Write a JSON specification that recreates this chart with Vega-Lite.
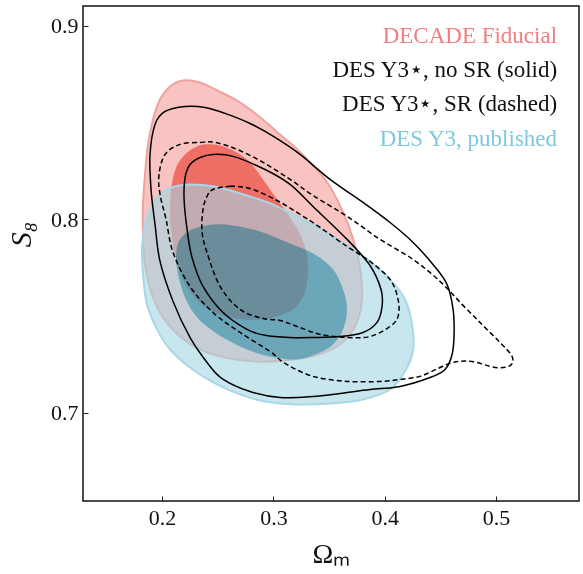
{
"$schema": "https://vega.github.io/schema/vega-lite/v6.json",
"width": 496, "height": 495,
"autosize": {"type": "none"},
"padding": {"left": 83, "top": 6, "right": 4, "bottom": 73},
"background": "white",
"config": {
  "view": {"stroke": "#111111", "strokeWidth": 1.5},
  "font": "Liberation Serif",
  "axis": {"grid": false, "domain": false, "tickSize": -5, "tickColor": "#222222", "tickWidth": 1,
           "labelFont": "Liberation Serif", "labelFontSize": 22, "labelColor": "#111111",
           "titleFont": "Liberation Serif", "titleFontWeight": "normal", "titleColor": "#111111"}
},
"data": {"values": [
{"g":"ro","k":0,"x":0.2189,"y":0.8718},{"g":"ro","k":1,"x":0.2341,"y":0.8708},{"g":"ro","k":2,"x":0.2476,"y":0.8672},{"g":"ro","k":3,"x":0.2656,"y":0.8620},{"g":"ro","k":4,"x":0.2790,"y":0.8568},{"g":"ro","k":5,"x":0.2925,"y":0.8506},{"g":"ro","k":6,"x":0.3060,"y":0.8439},{"g":"ro","k":7,"x":0.3195,"y":0.8372},{"g":"ro","k":8,"x":0.3329,"y":0.8295},{"g":"ro","k":9,"x":0.3464,"y":0.8207},{"g":"ro","k":10,"x":0.3572,"y":0.8103},{"g":"ro","k":11,"x":0.3671,"y":0.7974},{"g":"ro","k":12,"x":0.3743,"y":0.7845},{"g":"ro","k":13,"x":0.3787,"y":0.7716},{"g":"ro","k":14,"x":0.3796,"y":0.7587},{"g":"ro","k":15,"x":0.3760,"y":0.7483},{"g":"ro","k":16,"x":0.3689,"y":0.7406},{"g":"ro","k":17,"x":0.3572,"y":0.7344},{"g":"ro","k":18,"x":0.3374,"y":0.7297},{"g":"ro","k":19,"x":0.3105,"y":0.7271},{"g":"ro","k":20,"x":0.2835,"y":0.7266},{"g":"ro","k":21,"x":0.2566,"y":0.7287},{"g":"ro","k":22,"x":0.2341,"y":0.7328},{"g":"ro","k":23,"x":0.2162,"y":0.7395},{"g":"ro","k":24,"x":0.2009,"y":0.7494},{"g":"ro","k":25,"x":0.1910,"y":0.7612},{"g":"ro","k":26,"x":0.1847,"y":0.7767},{"g":"ro","k":27,"x":0.1829,"y":0.7922},{"g":"ro","k":28,"x":0.1829,"y":0.8078},{"g":"ro","k":29,"x":0.1847,"y":0.8233},{"g":"ro","k":30,"x":0.1874,"y":0.8388},{"g":"ro","k":31,"x":0.1919,"y":0.8517},{"g":"ro","k":32,"x":0.1982,"y":0.8620},{"g":"ro","k":33,"x":0.2072,"y":0.8687},
{"g":"ri","k":0,"x":0.2386,"y":0.8388},{"g":"ri","k":1,"x":0.2521,"y":0.8382},{"g":"ri","k":2,"x":0.2656,"y":0.8351},{"g":"ri","k":3,"x":0.2790,"y":0.8295},{"g":"ri","k":4,"x":0.2907,"y":0.8207},{"g":"ri","k":5,"x":0.3015,"y":0.8119},{"g":"ri","k":6,"x":0.3132,"y":0.8026},{"g":"ri","k":7,"x":0.3240,"y":0.7922},{"g":"ri","k":8,"x":0.3302,"y":0.7819},{"g":"ri","k":9,"x":0.3311,"y":0.7716},{"g":"ri","k":10,"x":0.3276,"y":0.7612},{"g":"ri","k":11,"x":0.3186,"y":0.7540},{"g":"ri","k":12,"x":0.3060,"y":0.7504},{"g":"ri","k":13,"x":0.2880,"y":0.7483},{"g":"ri","k":14,"x":0.2656,"y":0.7488},{"g":"ri","k":15,"x":0.2449,"y":0.7525},{"g":"ri","k":16,"x":0.2296,"y":0.7597},{"g":"ri","k":17,"x":0.2189,"y":0.7690},{"g":"ri","k":18,"x":0.2126,"y":0.7793},{"g":"ri","k":19,"x":0.2090,"y":0.7897},{"g":"ri","k":20,"x":0.2072,"y":0.8026},{"g":"ri","k":21,"x":0.2081,"y":0.8155},{"g":"ri","k":22,"x":0.2126,"y":0.8269},{"g":"ri","k":23,"x":0.2207,"y":0.8336},{"g":"ri","k":24,"x":0.2296,"y":0.8372},
{"g":"bo","k":0,"x":0.2251,"y":0.8181},{"g":"bo","k":1,"x":0.2458,"y":0.8171},{"g":"bo","k":2,"x":0.2701,"y":0.8134},{"g":"bo","k":3,"x":0.2970,"y":0.8083},{"g":"bo","k":4,"x":0.3177,"y":0.8026},{"g":"bo","k":5,"x":0.3419,"y":0.7953},{"g":"bo","k":6,"x":0.3662,"y":0.7866},{"g":"bo","k":7,"x":0.3868,"y":0.7783},{"g":"bo","k":8,"x":0.4048,"y":0.7690},{"g":"bo","k":9,"x":0.4183,"y":0.7587},{"g":"bo","k":10,"x":0.4246,"y":0.7457},{"g":"bo","k":11,"x":0.4255,"y":0.7328},{"g":"bo","k":12,"x":0.4183,"y":0.7215},{"g":"bo","k":13,"x":0.4048,"y":0.7121},{"g":"bo","k":14,"x":0.3805,"y":0.7070},{"g":"bo","k":15,"x":0.3509,"y":0.7049},{"g":"bo","k":16,"x":0.3213,"y":0.7044},{"g":"bo","k":17,"x":0.2925,"y":0.7059},{"g":"bo","k":18,"x":0.2701,"y":0.7096},{"g":"bo","k":19,"x":0.2458,"y":0.7158},{"g":"bo","k":20,"x":0.2251,"y":0.7235},{"g":"bo","k":21,"x":0.2072,"y":0.7328},{"g":"bo","k":22,"x":0.1955,"y":0.7432},{"g":"bo","k":23,"x":0.1865,"y":0.7561},{"g":"bo","k":24,"x":0.1829,"y":0.7716},{"g":"bo","k":25,"x":0.1820,"y":0.7860},{"g":"bo","k":26,"x":0.1847,"y":0.7974},{"g":"bo","k":27,"x":0.1910,"y":0.8078},{"g":"bo","k":28,"x":0.2000,"y":0.8140},{"g":"bo","k":29,"x":0.2117,"y":0.8171},
{"g":"bi","k":0,"x":0.2458,"y":0.7974},{"g":"bi","k":1,"x":0.2638,"y":0.7969},{"g":"bi","k":2,"x":0.2880,"y":0.7938},{"g":"bi","k":3,"x":0.3150,"y":0.7876},{"g":"bi","k":4,"x":0.3374,"y":0.7819},{"g":"bi","k":5,"x":0.3536,"y":0.7742},{"g":"bi","k":6,"x":0.3626,"y":0.7638},{"g":"bi","k":7,"x":0.3662,"y":0.7535},{"g":"bi","k":8,"x":0.3626,"y":0.7432},{"g":"bi","k":9,"x":0.3536,"y":0.7354},{"g":"bi","k":10,"x":0.3374,"y":0.7302},{"g":"bi","k":11,"x":0.3177,"y":0.7276},{"g":"bi","k":12,"x":0.2925,"y":0.7297},{"g":"bi","k":13,"x":0.2701,"y":0.7344},{"g":"bi","k":14,"x":0.2476,"y":0.7416},{"g":"bi","k":15,"x":0.2314,"y":0.7494},{"g":"bi","k":16,"x":0.2207,"y":0.7597},{"g":"bi","k":17,"x":0.2144,"y":0.7716},{"g":"bi","k":18,"x":0.2126,"y":0.7819},{"g":"bi","k":19,"x":0.2162,"y":0.7897},{"g":"bi","k":20,"x":0.2269,"y":0.7948},
{"g":"so","k":0,"x":0.2207,"y":0.8584},{"g":"so","k":1,"x":0.2386,"y":0.8579},{"g":"so","k":2,"x":0.2566,"y":0.8548},{"g":"so","k":3,"x":0.2790,"y":0.8496},{"g":"so","k":4,"x":0.3015,"y":0.8424},{"g":"so","k":5,"x":0.3240,"y":0.8336},{"g":"so","k":6,"x":0.3509,"y":0.8207},{"g":"so","k":7,"x":0.3805,"y":0.8088},{"g":"so","k":8,"x":0.4048,"y":0.7984},{"g":"so","k":9,"x":0.4255,"y":0.7881},{"g":"so","k":10,"x":0.4434,"y":0.7767},{"g":"so","k":11,"x":0.4560,"y":0.7664},{"g":"so","k":12,"x":0.4614,"y":0.7535},{"g":"so","k":13,"x":0.4623,"y":0.7406},{"g":"so","k":14,"x":0.4605,"y":0.7302},{"g":"so","k":15,"x":0.4542,"y":0.7225},{"g":"so","k":16,"x":0.4407,"y":0.7183},{"g":"so","k":17,"x":0.4138,"y":0.7137},{"g":"so","k":18,"x":0.3868,"y":0.7121},{"g":"so","k":19,"x":0.3599,"y":0.7101},{"g":"so","k":20,"x":0.3356,"y":0.7085},{"g":"so","k":21,"x":0.3060,"y":0.7080},{"g":"so","k":22,"x":0.2790,"y":0.7111},{"g":"so","k":23,"x":0.2539,"y":0.7178},{"g":"so","k":24,"x":0.2404,"y":0.7261},{"g":"so","k":25,"x":0.2251,"y":0.7390},{"g":"so","k":26,"x":0.2099,"y":0.7576},{"g":"so","k":27,"x":0.1982,"y":0.7783},{"g":"so","k":28,"x":0.1937,"y":0.7974},{"g":"so","k":29,"x":0.1901,"y":0.8155},{"g":"so","k":30,"x":0.1892,"y":0.8336},{"g":"so","k":31,"x":0.1937,"y":0.8491},{"g":"so","k":32,"x":0.2027,"y":0.8558},
{"g":"si","k":0,"x":0.2458,"y":0.8336},{"g":"si","k":1,"x":0.2638,"y":0.8326},{"g":"si","k":2,"x":0.2925,"y":0.8258},{"g":"si","k":3,"x":0.3150,"y":0.8181},{"g":"si","k":4,"x":0.3356,"y":0.8067},{"g":"si","k":5,"x":0.3662,"y":0.7897},{"g":"si","k":6,"x":0.3868,"y":0.7762},{"g":"si","k":7,"x":0.3967,"y":0.7638},{"g":"si","k":8,"x":0.3976,"y":0.7550},{"g":"si","k":9,"x":0.3931,"y":0.7468},{"g":"si","k":10,"x":0.3805,"y":0.7416},{"g":"si","k":11,"x":0.3599,"y":0.7395},{"g":"si","k":12,"x":0.3356,"y":0.7390},{"g":"si","k":13,"x":0.3150,"y":0.7390},{"g":"si","k":14,"x":0.2925,"y":0.7401},{"g":"si","k":15,"x":0.2763,"y":0.7432},{"g":"si","k":16,"x":0.2548,"y":0.7519},{"g":"si","k":17,"x":0.2368,"y":0.7654},{"g":"si","k":18,"x":0.2269,"y":0.7804},{"g":"si","k":19,"x":0.2225,"y":0.7948},{"g":"si","k":20,"x":0.2198,"y":0.8103},{"g":"si","k":21,"x":0.2207,"y":0.8217},{"g":"si","k":22,"x":0.2251,"y":0.8284},{"g":"si","k":23,"x":0.2341,"y":0.8320},
{"g":"do","k":0,"x":0.2162,"y":0.8388},{"g":"do","k":1,"x":0.2341,"y":0.8398},{"g":"do","k":2,"x":0.2476,"y":0.8398},{"g":"do","k":3,"x":0.2674,"y":0.8362},{"g":"do","k":4,"x":0.2907,"y":0.8295},{"g":"do","k":5,"x":0.3150,"y":0.8207},{"g":"do","k":6,"x":0.3356,"y":0.8124},{"g":"do","k":7,"x":0.3662,"y":0.8016},{"g":"do","k":8,"x":0.3958,"y":0.7897},{"g":"do","k":9,"x":0.4255,"y":0.7793},{"g":"do","k":10,"x":0.4497,"y":0.7680},{"g":"do","k":11,"x":0.4695,"y":0.7561},{"g":"do","k":12,"x":0.4874,"y":0.7457},{"g":"do","k":13,"x":0.5036,"y":0.7364},{"g":"do","k":14,"x":0.5144,"y":0.7292},{"g":"do","k":15,"x":0.5126,"y":0.7245},{"g":"do","k":16,"x":0.4991,"y":0.7235},{"g":"do","k":17,"x":0.4784,"y":0.7266},{"g":"do","k":18,"x":0.4614,"y":0.7261},{"g":"do","k":19,"x":0.4479,"y":0.7230},{"g":"do","k":20,"x":0.4317,"y":0.7189},{"g":"do","k":21,"x":0.4138,"y":0.7173},{"g":"do","k":22,"x":0.3958,"y":0.7163},{"g":"do","k":23,"x":0.3662,"y":0.7163},{"g":"do","k":24,"x":0.3356,"y":0.7189},{"g":"do","k":25,"x":0.3105,"y":0.7256},{"g":"do","k":26,"x":0.2970,"y":0.7318},{"g":"do","k":27,"x":0.2701,"y":0.7416},{"g":"do","k":28,"x":0.2458,"y":0.7519},{"g":"do","k":29,"x":0.2251,"y":0.7654},{"g":"do","k":30,"x":0.2099,"y":0.7829},{"g":"do","k":31,"x":0.2036,"y":0.8000},{"g":"do","k":32,"x":0.1982,"y":0.8129},{"g":"do","k":33,"x":0.1973,"y":0.8233},{"g":"do","k":34,"x":0.2027,"y":0.8336},
{"g":"di","k":0,"x":0.2458,"y":0.8155},{"g":"di","k":1,"x":0.2611,"y":0.8171},{"g":"di","k":2,"x":0.2790,"y":0.8160},{"g":"di","k":3,"x":0.3033,"y":0.8098},{"g":"di","k":4,"x":0.3240,"y":0.8026},{"g":"di","k":5,"x":0.3419,"y":0.7959},{"g":"di","k":6,"x":0.3662,"y":0.7860},{"g":"di","k":7,"x":0.3868,"y":0.7783},{"g":"di","k":8,"x":0.4048,"y":0.7690},{"g":"di","k":9,"x":0.4120,"y":0.7587},{"g":"di","k":10,"x":0.4120,"y":0.7499},{"g":"di","k":11,"x":0.4048,"y":0.7447},{"g":"di","k":12,"x":0.3868,"y":0.7395},{"g":"di","k":13,"x":0.3662,"y":0.7390},{"g":"di","k":14,"x":0.3419,"y":0.7406},{"g":"di","k":15,"x":0.3213,"y":0.7447},{"g":"di","k":16,"x":0.3060,"y":0.7478},{"g":"di","k":17,"x":0.2907,"y":0.7488},{"g":"di","k":18,"x":0.2701,"y":0.7535},{"g":"di","k":19,"x":0.2521,"y":0.7654},{"g":"di","k":20,"x":0.2404,"y":0.7829},{"g":"di","k":21,"x":0.2359,"y":0.7938},{"g":"di","k":22,"x":0.2368,"y":0.8052},{"g":"di","k":23,"x":0.2404,"y":0.8119}
]},
"encoding": {
  "x": {"field": "x", "type": "quantitative", "scale": {"domain": [0.129, 0.5745], "nice": false, "zero": false},
        "axis": {"values": [0.2, 0.3, 0.4, 0.5], "format": ".1f", "title": "Ωₘ", "titleFontSize": 28, "labelPadding": 11, "titlePadding": 12}},
  "y": {"field": "y", "type": "quantitative", "scale": {"domain": [0.6545, 0.9103], "nice": false, "zero": false},
        "axis": {"values": [0.7, 0.8, 0.9], "format": ".1f", "title": "S₈", "titleFontSize": 30, "titleFontStyle": "italic", "labelPadding": 10, "titlePadding": 14, "titleY": 228}},
  "order": {"field": "k", "type": "quantitative"}
},
"layer": [
  {"transform": [{"filter": "datum.g === 'ro'"}],
   "mark": {"type": "line", "interpolate": "cardinal-closed", "fill": "#f8c3c0", "stroke": "#eea39d", "strokeWidth": 2}},
  {"transform": [{"filter": "datum.g === 'ri'"}],
   "mark": {"type": "line", "interpolate": "cardinal-closed", "fill": "#ef6f66", "strokeWidth": 0}},
  {"transform": [{"filter": "datum.g === 'bo'"}],
   "mark": {"type": "line", "interpolate": "cardinal-closed", "fill": "#a3d5e3", "fillOpacity": 0.6, "strokeWidth": 0}},
  {"transform": [{"filter": "datum.g === 'bi'"}],
   "mark": {"type": "line", "interpolate": "cardinal-closed", "fill": "#8ccfde", "blend": "multiply", "strokeWidth": 0}},
  {"transform": [{"filter": "datum.g === 'bo'"}],
   "mark": {"type": "line", "interpolate": "cardinal-closed", "stroke": "#a8d8e6", "strokeWidth": 2}},
  {"transform": [{"filter": "datum.g === 'so' || datum.g === 'si'"}],
   "mark": {"type": "line", "interpolate": "cardinal-closed", "stroke": "#000000", "strokeWidth": 1.5},
   "encoding": {"detail": {"field": "g"}}},
  {"transform": [{"filter": "datum.g === 'do' || datum.g === 'di'"}],
   "mark": {"type": "line", "interpolate": "cardinal-closed", "stroke": "#000000", "strokeWidth": 1.5, "strokeDash": [5, 3]},
   "encoding": {"detail": {"field": "g"}}},
  {"data": {"values": [
     {"label": "DECADE Fiducial", "s": "DECADE", "x": 0.5548, "y": 0.8910},
     {"label": "DES Y3⋆, no SR (solid)", "s": "noSR", "x": 0.5548, "y": 0.8734},
     {"label": "DES Y3⋆, SR (dashed)", "s": "SR", "x": 0.5548, "y": 0.8558},
     {"label": "DES Y3, published", "s": "Y3", "x": 0.5548, "y": 0.8382}
   ]},
   "mark": {"type": "text", "align": "right", "baseline": "alphabetic", "fontSize": 23, "font": "Liberation Serif"},
   "encoding": {
     "text": {"field": "label"},
     "order": null,
     "color": {"field": "s", "type": "nominal", "legend": null,
               "scale": {"domain": ["DECADE", "noSR", "SR", "Y3"], "range": ["#f08080", "#111111", "#111111", "#7ec8df"]}}
   }}
]
}
